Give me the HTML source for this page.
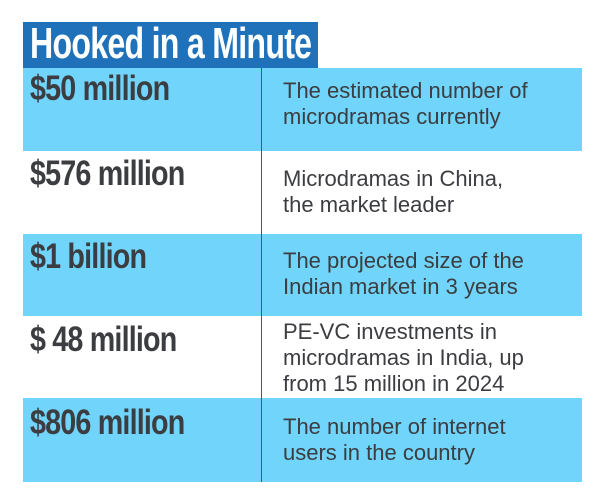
<!DOCTYPE html>
<html><head><meta charset="utf-8"><style>
body{margin:0;width:600px;height:500px;background:#fff;position:relative;overflow:hidden;font-family:"Liberation Sans",sans-serif}
.a{position:absolute}
.title{left:23px;top:22px;width:295px;height:46px;background:#1f72ba}
.title span{position:absolute;left:7px;top:-3px;color:#fff;font-weight:bold;font-size:44px;letter-spacing:-1px;transform:scaleX(.73);transform-origin:left top;white-space:nowrap}
.row{left:23px;width:559px}
.blue{background:#70d4fb}
.amt{left:30px;color:#3b3d40;font-weight:bold;font-size:35px;letter-spacing:-1px;transform:scaleX(.82);transform-origin:left top;white-space:nowrap}
.desc{left:283px;color:#3b3d40;font-size:22px;line-height:26px}
.div{left:261px;top:68px;width:1px;height:414px;background:#555}
</style></head><body>
<div class="a title"><span>Hooked in a Minute</span></div>
<div class="a row blue" style="top:68px;height:83px"></div>
<div class="a row" style="top:151px;height:83px"></div>
<div class="a row blue" style="top:234px;height:82px"></div>
<div class="a row" style="top:316px;height:82px"></div>
<div class="a row blue" style="top:398px;height:84px"></div>
<div class="a div"></div>

<div class="a amt" style="top:69px">$50 million</div>
<div class="a amt" style="top:154px">$576 million</div>
<div class="a amt" style="top:237px">$1 billion</div>
<div class="a amt" style="top:320px">$ 48 million</div>
<div class="a amt" style="top:403px">$806 million</div>

<div class="a desc" style="top:78px">The estimated number of<br>microdramas currently</div>
<div class="a desc" style="top:166px">Microdramas in China,<br>the market leader</div>
<div class="a desc" style="top:248px">The projected size of the<br>Indian market in 3 years</div>
<div class="a desc" style="top:319px">PE-VC investments in<br>microdramas in India, up<br>from 15 million in 2024</div>
<div class="a desc" style="top:414px">The number of internet<br>users in the country</div>
</body></html>
